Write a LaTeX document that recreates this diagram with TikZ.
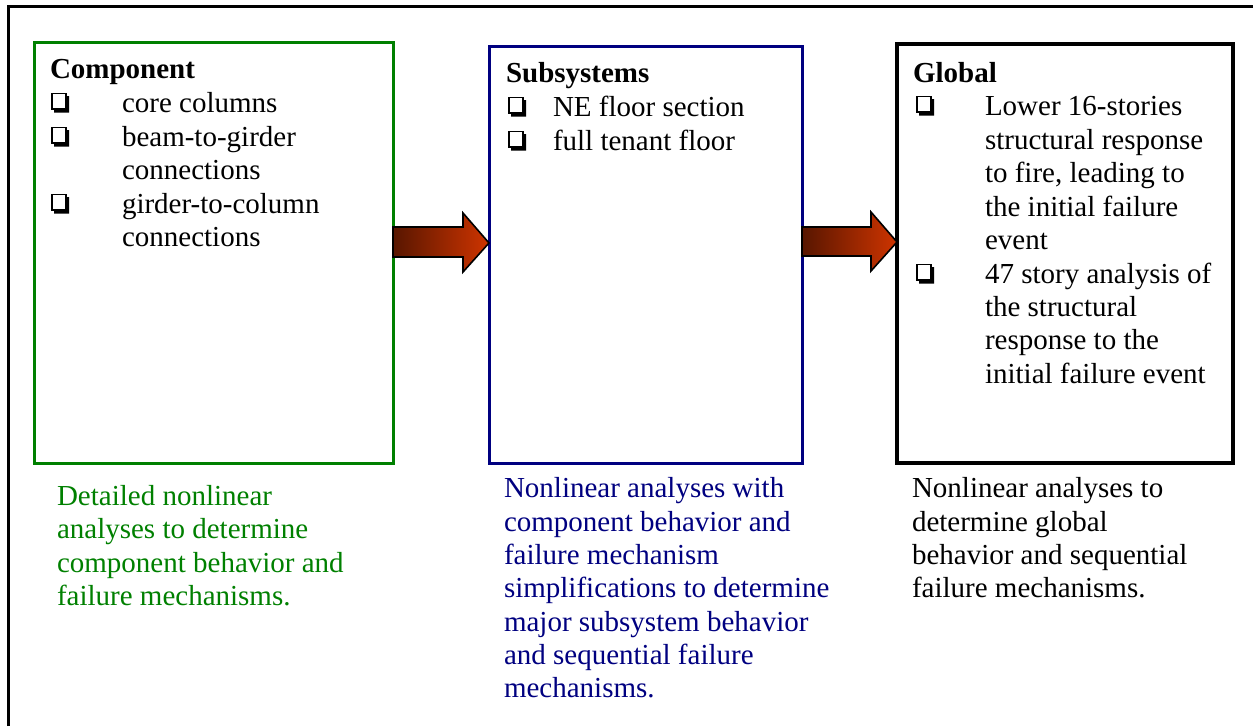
\documentclass[tikz,border=0pt]{standalone}
\usepackage{fontspec}
\setmainfont{Liberation Serif}
\usetikzlibrary{calc}
\definecolor{gbox}{RGB}{0,128,0}
\definecolor{nbox}{RGB}{0,0,128}
\definecolor{adark}{RGB}{88,22,0}
\definecolor{ared}{RGB}{206,52,0}
\tikzset{
  txt/.style={anchor=base west, inner sep=0pt, outer sep=0pt, font=\fontsize{29}{34}\selectfont},
  hd/.style={anchor=base west, inner sep=0pt, outer sep=0pt, font=\fontsize{29}{34}\selectfont\bfseries},
  panel/.style={draw, inner sep=0pt, outer sep=0pt},
  blockarrow/.style={left color=adark, right color=ared, draw=black, line width=1.6pt, line join=miter},
}
\newcommand{\ckbox}[3]{%
  \coordinate (#1) at (#2,#3);
  \fill (#2+3,#3-3) -- (#2+15,#3-3) -- (#2+15,#3-16) -- (#2+18,#3-16) -- (#2+18,#3+0.5) -- (#2+3,#3+0.5) -- cycle;
  \draw[line width=1.6pt] (#2+0.8,#3-18.5) rectangle (#2+15,#3-3);
}
\begin{document}
\begin{tikzpicture}[x=1pt,y=-1pt]
\useasboundingbox (0,0) rectangle (1253,726);
% outer frame (open on right and bottom)
\draw[line width=3pt] (8,726) -- (8,6) -- (1253,6);

% panels
\node[panel, draw=gbox, line width=3pt, minimum width=359pt, minimum height=421pt] (comp) at (213.5,252.5) {};
\node[panel, draw=nbox, line width=3pt, minimum width=313pt, minimum height=417pt] (subs) at (645.5,254.5) {};
\node[panel, draw=black, line width=4pt, minimum width=336pt, minimum height=419pt] (glob) at (1065,253.5) {};

% block arrows
\shadedraw[blockarrow] (comp.east |- 0,227) -- (463,227) -- (463,213) -- (subs.west |- 0,243) -- (463,272) -- (463,257) -- (comp.east |- 0,257) -- cycle;
\shadedraw[blockarrow] (subs.east |- 0,227) -- (871,227) -- (871,212) -- (glob.west |- 0,242) -- (871,271) -- (871,256) -- (subs.east |- 0,256) -- cycle;

% Component panel
\node[hd] (comph) at (50,78) {Component};
\ckbox{ck1}{51}{112}
\ckbox{ck2}{51}{146}
\ckbox{ck3}{51}{213}
\foreach \t/\y [count=\i] in {core columns/112, beam-to-girder/146, connections/179, girder-to-column/213, connections/246}
  \node[txt] (ct\i) at (122,\y) {\t};

% Subsystems panel
\node[hd] (subsh) at (506,82) {Subsystems};
\ckbox{ck4}{508}{116}
\ckbox{ck5}{508}{150}
\node[txt] (st1) at (553,116) {NE floor section};
\node[txt] (st2) at (553,150) {full tenant floor};

% Global panel
\node[hd] (globh) at (913,82) {Global};
\ckbox{ck6}{916}{115}
\ckbox{ck7}{916}{283}
\foreach \t/\y [count=\i] in {Lower 16-stories/115, structural response/149, {to fire, leading to}/182, the initial failure/216, event/249, 47 story analysis of/283, the structural/316, response to the/349, initial failure event/383}
  \node[txt] (gt\i) at (985,\y) {\t};

% captions
\foreach \t/\y [count=\i] in {Detailed nonlinear/505, analyses to determine/538, component behavior and/572, failure mechanisms./605}
  \node[txt, text=gbox] (cc\i) at (57,\y) {\t};
\foreach \t/\y [count=\i] in {Nonlinear analyses with/497, component behavior and/531, failure mechanism/564, simplifications to determine/597, major subsystem behavior/631, and sequential failure/664, mechanisms./697}
  \node[txt, text=nbox] (sc\i) at (504,\y) {\t};
\foreach \t/\y [count=\i] in {Nonlinear analyses to/497, determine global/531, behavior and sequential/564, failure mechanisms./597}
  \node[txt] (gc\i) at (912,\y) {\t};
\end{tikzpicture}
\end{document}
